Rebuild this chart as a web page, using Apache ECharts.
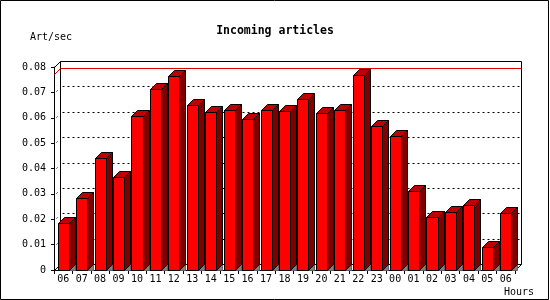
<!DOCTYPE html>
<html>
<head>
<meta charset="utf-8">
<script src="https://cdn.jsdelivr.net/npm/echarts@6/dist/echarts.min.js"></script>
<style>
html,body{margin:0;padding:0;background:#fff;}
#chart{width:550px;height:300px;}
</style>
</head>
<body>
<div id="chart"></div>
<script>
// ---- data ----
var hours = ['06','07','08','09','10','11','12','13','14','15','16','17','18','19','20','21','22','23','00','01','02','03','04','05','06'];
var rates = [0.0185,0.0282,0.0443,0.0365,0.0605,0.0715,0.0766,0.0652,0.0621,0.0632,0.0597,0.0632,0.0625,0.0672,0.0617,0.0632,0.0770,0.0569,0.0530,0.0310,0.0207,0.0227,0.0255,0.0089,0.0223];
var yTicks = [0,0.01,0.02,0.03,0.04,0.05,0.06,0.07,0.08];
var maxLine = 0.0774;
var titleText = 'Incoming articles';
var yUnit = 'Art/sec';
var xUnit = 'Hours';

var D = 6; // 3D depth in px
var FONT = '"DejaVu Sans Mono", monospace';
function p(v){ return Math.round(v) + 0.5; }

var chart = echarts.init(document.getElementById('chart'), null, {renderer:'canvas'});

var barData = rates.map(function(v, i){ return [i, v]; });

var option = {
  animation: false,
  backgroundColor: '#fff',
  title: {
    text: titleText, left: 'center', top: 20,
    textStyle: {fontFamily: FONT, fontSize: 11.5, fontWeight: 'bold', color: '#000'}
  },
  grid: {left: 54, right: 35, top: 67, bottom: 30, containLabel: false},
  xAxis: {
    type: 'category', data: hours, boundaryGap: true,
    axisLine: {show: true, lineStyle: {color: '#000', width: 1}},
    axisTick: {show: true, length: 4, inside: false, lineStyle: {color: '#000'}},
    axisLabel: {fontFamily: FONT, fontSize: 10, color: '#000', margin: 4, interval: 0},
    splitLine: {show: false}
  },
  yAxis: {
    type: 'value', min: yTicks[0], max: yTicks[yTicks.length-1], interval: yTicks[1]-yTicks[0],
    axisLine: {show: true, lineStyle: {color: '#000', width: 1}},
    axisTick: {show: true, length: 3, inside: false, lineStyle: {color: '#000'}},
    axisLabel: {fontFamily: FONT, fontSize: 10, color: '#000', margin: 8,
      formatter: function(v){ return v === 0 ? '0' : v.toFixed(2); }},
    splitLine: {show: false}
  },
  graphic: [
    {type:'rect', shape:{x:0.5, y:0.5, width:548, height:299}, style:{fill:'none', stroke:'#000', lineWidth:1}, z:100},
    {type:'text', left:30, top:32, style:{text:yUnit, font:'10px ' + FONT, fill:'#000'}},
    {type:'text', left:504, top:287, style:{text:xUnit, font:'10px ' + FONT, fill:'#000'}}
  ],
  series: [
    {
      // back plane, grid lines, max line
      type: 'custom', z: 1, silent: true,
      data: [[0, 0]],
      renderItem: function(params, api){
        var cs = params.coordSys;
        var x0 = p(cs.x), x1 = p(cs.x + cs.width);
        var y0 = p(cs.y), y1 = p(cs.y + cs.height);
        var ch = [];
        ch.push({type:'rect', shape:{x:x0+D, y:y0-D, width:x1-x0, height:y1-y0}, style:{fill:'#fff', stroke:'#000', lineWidth:1}});
        for (var k = 1; k < yTicks.length - 1; k++) {
          var yy = p(api.coord([0, yTicks[k]])[1]);
          ch.push({type:'line', shape:{x1:x0+D+2, y1:yy-D, x2:x1+D, y2:yy-D}, style:{stroke:'#000', lineWidth:1, lineDash:[2,3]}});
          ch.push({type:'line', shape:{x1:x0+2, y1:yy-1, x2:x0+3, y2:yy-2}, style:{stroke:'#000', lineWidth:1}});
        }
        var ym = p(api.coord([0, maxLine])[1]);
        ch.push({type:'line', shape:{x1:x0+D, y1:ym-D, x2:x1+D, y2:ym-D}, style:{stroke:'#e00000', lineWidth:1}});
        ch.push({type:'line', shape:{x1:x0, y1:ym, x2:x0+D, y2:ym-D}, style:{stroke:'#e00000', lineWidth:1}});
        ch.push({type:'line', shape:{x1:x0, y1:y0, x2:x0+D, y2:y0-D}, style:{stroke:'#000', lineWidth:1}});
        ch.push({type:'line', shape:{x1:x0, y1:y1, x2:x0+D, y2:y1-D}, style:{stroke:'#000', lineWidth:1}});
        ch.push({type:'line', shape:{x1:x1, y1:y1, x2:x1+D, y2:y1-D}, style:{stroke:'#000', lineWidth:1}});
        return {type:'group', children: ch};
      }
    },
    {
      type: 'custom', z: 3, silent: true,
      data: barData,
      encode: {x: 0, y: 1},
      renderItem: function(params, api){
        var i = api.value(0), v = api.value(1);
        var c = api.coord([i, v]), b = api.coord([i, 0]);
        var bw = api.size([1, 0])[0] * 0.6;
        var xl = p(c[0] - bw/2), xr = p(c[0] + bw/2);
        var yt = p(c[1]), yb = p(b[1]);
        return {type:'group', children:[
          {type:'polygon', shape:{points:[[xr,yb],[xr+D,yb-D],[xr+D,yb]]}, style:{fill:'#808080', stroke:'#606060', lineWidth:1}},
          {type:'polygon', shape:{points:[[xr,yt],[xr+D,yt-D],[xr+D,yb-D],[xr,yb]]}, style:{fill:'#800000', stroke:'#000', lineWidth:1}},
          {type:'polygon', shape:{points:[[xl,yt],[xl+D,yt-D],[xr+D,yt-D],[xr,yt]]}, style:{fill:'#c00000', stroke:'#000', lineWidth:1}},
          {type:'rect', shape:{x:xl, y:yt, width:xr-xl, height:yb-yt}, style:{fill:'#ff0000', stroke:'#000', lineWidth:1}}
        ]};
      }
    }
  ]
};
chart.setOption(option);
</script>
</body>
</html>
